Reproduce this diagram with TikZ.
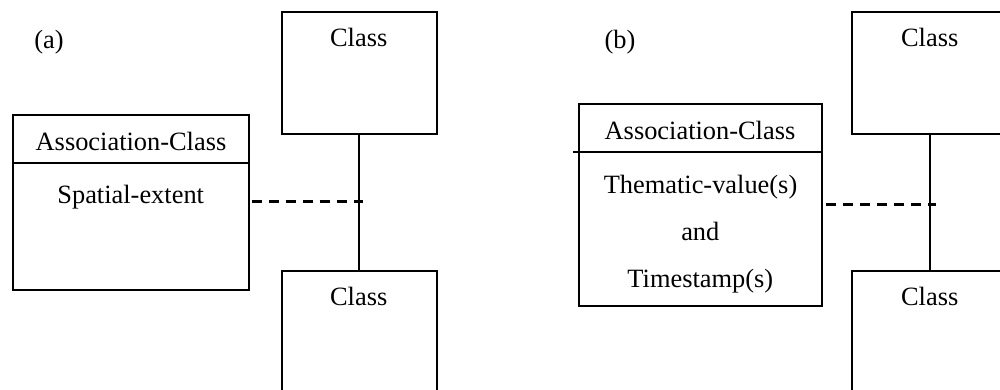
\documentclass[tikz,border=0pt]{standalone}
\usepackage{fontspec}
\setmainfont{Liberation Serif}
\begin{document}
\begin{tikzpicture}[x=1pt,y=-1pt,
  box/.style={draw,line width=2pt,rectangle,inner sep=0pt},
  lbl/.style={inner sep=0pt,anchor=base,font=\fontsize{26.4}{30}\selectfont},
  link/.style={line width=2pt},
  assoc/.style={line width=2.6pt,dash pattern=on 10pt off 7pt}]
\useasboundingbox (0,0) rectangle (1000,390);
\clip (0,0) rectangle (1000,390);

% ---------- (a) ----------
\node[lbl] (tagA) at (49,48.5) {(a)};
\node[box,minimum width=155.3pt,minimum height=122pt] (topA) at (359.3,72.7) {};
\node[box,minimum width=155.3pt,minimum height=160pt] (botA) at (359.3,351) {};
\node[lbl] (topAtxt) at (358.7,47) {Class};
\node[lbl] (botAtxt) at (358.7,305.6) {Class};
\node[box,minimum width=235.4pt,minimum height=175pt] (acA) at (131,202.5) {};
\draw[link] (acA.west |- 0,162.7) coordinate (divAl) -- (acA.east |- 0,162.7) coordinate (divAr);
\node[lbl] (acAname) at (131,150) {Association-Class};
\node[lbl] (acAattr) at (130.7,203) {Spatial-extent};
\draw[link] (topA.south) -- (botA.north);
\coordinate (endA) at (362.7,201.7);
\draw[assoc] (acA.east |- endA) ++(2pt,0) -- (endA);

% ---------- (b) ----------
\node[lbl] (tagB) at (620,48.5) {(b)};
\node[box,minimum width=155.3pt,minimum height=122pt] (topB) at (930,72.7) {};
\node[box,minimum width=155.3pt,minimum height=160pt] (botB) at (930,351) {};
\node[lbl] (topBtxt) at (929.7,47) {Class};
\node[lbl] (botBtxt) at (929.7,305.6) {Class};
\node[box,minimum width=243.6pt,minimum height=202pt] (acB) at (700.5,205) {};
\coordinate (divBl) at (573.3,152);
\draw[link] (divBl) -- (acB.east |- divBl);
\node[lbl] (acBname) at (700,139.3) {Association-Class};
\node[lbl] (acBattr1) at (700.5,193.3) {Thematic-value(s)};
\node[lbl] (acBattr2) at (700.3,240) {and};
\node[lbl] (acBattr3) at (700.3,287.3) {Timestamp(s)};
\draw[link] (topB.south) -- (botB.north);
\coordinate (endB) at (935.7,204.7);
\draw[assoc] (acB.east |- endB) ++(2.7pt,0) -- (endB);
\end{tikzpicture}
\end{document}
